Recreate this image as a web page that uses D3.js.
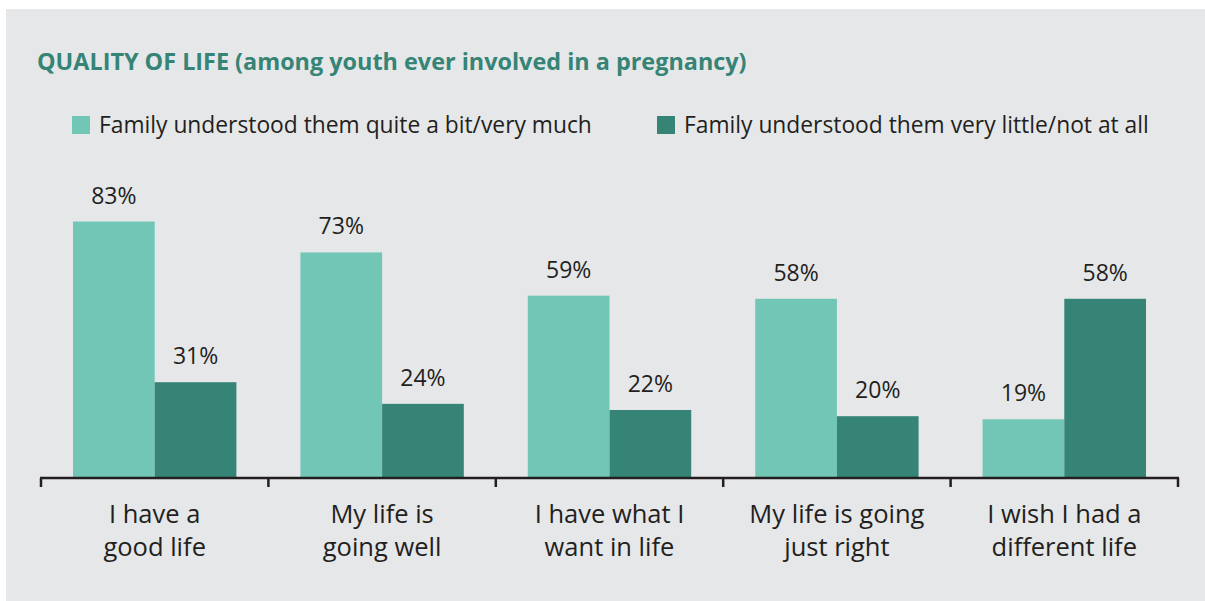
<!DOCTYPE html>
<html><head><meta charset="utf-8">
<script src="https://cdn.jsdelivr.net/npm/d3@7"></script>
<style>body{margin:0;background:#fff;}svg{display:block;}</style>
</head><body>
<script>
const categories = [["I have a","good life"],["My life is","going well"],["I have what I","want in life"],["My life is going","just right"],["I wish I had a","different life"]];
const seriesNames = ["Family understood them quite a bit/very much","Family understood them very little/not at all"];
const understoodMuch = [83, 73, 59, 58, 19];
const understoodLittle = [31, 24, 22, 20, 58];
const title = "QUALITY OF LIFE (among youth ever involved in a pregnancy)";

const W = 1205, H = 601;
const colors = ["#72C6B6", "#358476"];
const font = "'Open Sans', 'Noto Sans', sans-serif";
const svg = d3.select("body").append("svg").attr("width", W).attr("height", H);
svg.append("rect").attr("x", 6).attr("y", 9).attr("width", W - 6).attr("height", H - 9).attr("fill", "#E6E7E9");

svg.append("text").attr("x", 37).attr("y", 70).text(title)
  .attr("font-family", font).attr("font-weight", 700).attr("font-size", 23.4).attr("fill", "#358476");

const baseY = 478;
const x = d3.scaleBand().domain(d3.range(categories.length)).range([41, 1178]).paddingInner(0).paddingOuter(0);
const x1 = d3.scaleBand().domain([0, 1]).range([32, x.bandwidth() - 32]);
const y = d3.scaleLinear().domain([0, 100]).range([baseY, baseY - 309]);

// legend
const legX = [72, 657];
const legW = [488, 473];
seriesNames.forEach((n, i) => {
  svg.append("rect").attr("x", legX[i]).attr("y", 116).attr("width", 18).attr("height", 18).attr("fill", colors[i]);
  svg.append("text").attr("x", legX[i] + 27).attr("y", 133).text(n)
    .attr("font-family", font).attr("font-size", 22.8).attr("fill", "#231F20");
});

const data = categories.map((c, i) => [understoodMuch[i], understoodLittle[i]]);
const g = svg.append("g");
data.forEach((vals, i) => {
  vals.forEach((v, j) => {
    const bx = x(i) + x1(j);
    g.append("rect").attr("x", bx).attr("y", y(v)).attr("width", x1.bandwidth()).attr("height", baseY - y(v)).attr("fill", colors[j]);
    g.append("text").attr("x", bx + x1.bandwidth() / 2).attr("y", y(v) - 18).attr("text-anchor", "middle")
      .text(v + "%").attr("font-family", font).attr("font-size", 23).attr("fill", "#231F20");
  });
});

const ax = svg.append("g").attr("transform", `translate(0,${baseY})`);
ax.append("line").attr("x1", 40).attr("x2", 1179).attr("stroke", "#231F20").attr("stroke-width", 2.5);
const edges = d3.range(categories.length + 1).map(i => i < categories.length ? x(i) : x(i - 1) + x.bandwidth());
ax.selectAll("line.t").data(edges).enter().append("line").attr("class", "t")
  .attr("x1", d => d).attr("x2", d => d).attr("y1", 0).attr("y2", 9).attr("stroke", "#231F20").attr("stroke-width", 2.5);
categories.forEach((c, i) => {
  const t = ax.append("text").attr("text-anchor", "middle").attr("font-family", font).attr("font-size", 25.5).attr("fill", "#231F20");
  c.forEach((line, k) => t.append("tspan").attr("x", x(i) + x.bandwidth() / 2).attr("y", 45 + k * 33).text(line));
});
</script>
</body></html>
